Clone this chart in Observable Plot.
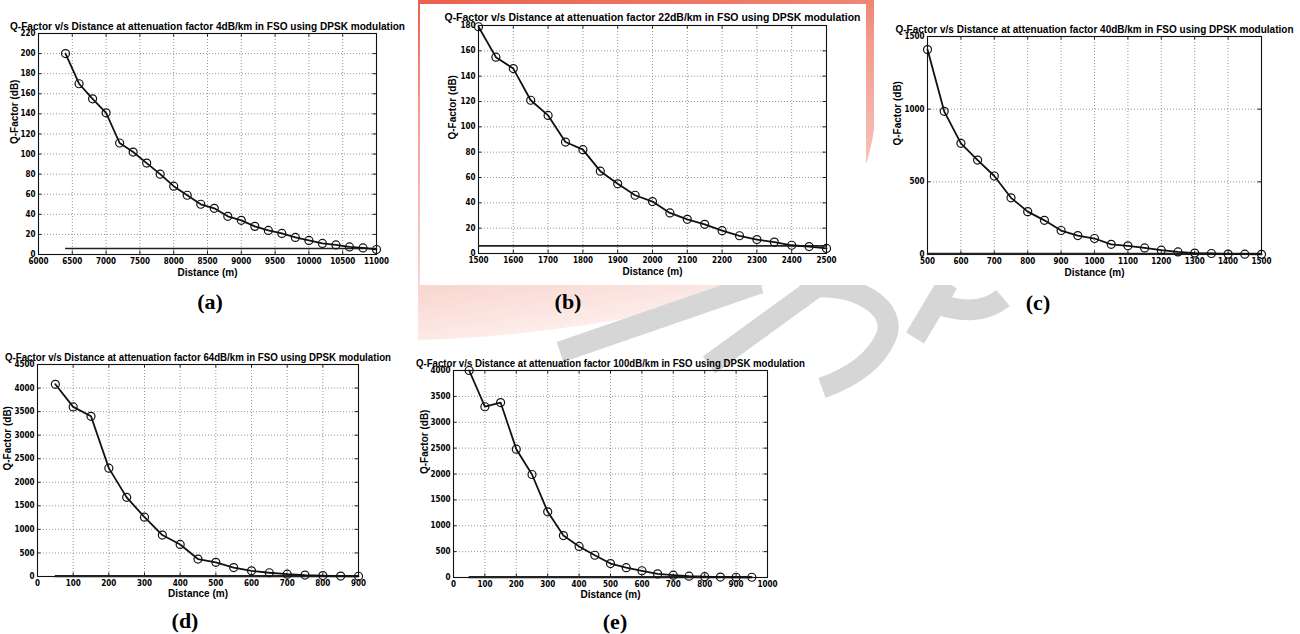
<!DOCTYPE html>
<html><head><meta charset="utf-8">
<script src="https://cdn.jsdelivr.net/npm/d3@7"></script>
<script src="https://cdn.jsdelivr.net/npm/@observablehq/plot@0.6"></script>
<style>
html,body{margin:0;padding:0;background:#fff;}
#root{position:relative;width:1300px;height:634px;overflow:hidden;background:#fff;font-family:"Liberation Sans",Arial,sans-serif;}
#wm{position:absolute;left:0;top:0;}
.tag{position:absolute;font-family:"Liberation Serif","Times New Roman",serif;font-weight:bold;font-size:22px;line-height:1;transform:translate(-50%,-50%);color:#000;white-space:nowrap;}
</style></head><body><div id="root"></div>
<script>
// ---------- data ----------
const distA = [6400,6600,6800,7000,7200,7400,7600,7800,8000,8200,8400,8600,8800,9000,9200,9400,9600,9800,10000,10200,10400,10600,10800,11000];
const qA    = [200,170,155,141,111,102,91,80,68,59,50,46,38,34,28,24,21,17,14,11,9.5,7.5,6.5,5];
const thrA  = 6;
const xTicksA = [6000,6500,7000,7500,8000,8500,9000,9500,10000,10500,11000];
const yTicksA = [0,20,40,60,80,100,120,140,160,180,200,220];
const titleA = "Q-Factor v/s Distance at attenuation factor 4dB/km in FSO using DPSK modulation";

const distB = [1500,1550,1600,1650,1700,1750,1800,1850,1900,1950,2000,2050,2100,2150,2200,2250,2300,2350,2400,2450,2500];
const qB    = [179,155,146,121,109,88,82,65,55,46,41,32,27,23,18,14,11,9,6.5,5.5,4];
const thrB  = 6;
const xTicksB = [1500,1600,1700,1800,1900,2000,2100,2200,2300,2400,2500];
const yTicksB = [0,20,40,60,80,100,120,140,160,180];
const titleB = "Q-Factor v/s Distance at attenuation factor 22dB/km in FSO using DPSK modulation";

const distC = [500,550,600,650,700,750,800,850,900,950,1000,1050,1100,1150,1200,1250,1300,1350,1400,1450,1500];
const qC    = [1410,985,765,650,540,390,295,235,165,130,110,70,60,45,30,18,10,7,3,2,1];
const thrC  = 6;
const xTicksC = [500,600,700,800,900,1000,1100,1200,1300,1400,1500];
const yTicksC = [0,500,1000,1500];
const titleC = "Q-Factor v/s Distance at attenuation factor 40dB/km in FSO using DPSK modulation";

const distD = [50,100,150,200,250,300,350,400,450,500,550,600,650,700,750,800,850,900];
const qD    = [4080,3600,3400,2300,1680,1260,880,680,370,300,190,120,80,50,30,20,10,5];
const thrD  = 6;
const xTicksD = [0,100,200,300,400,500,600,700,800,900];
const yTicksD = [0,500,1000,1500,2000,2500,3000,3500,4000,4500];
const titleD = "Q-Factor v/s Distance at attenuation factor 64dB/km in FSO using DPSK modulation";

const distE = [50,100,150,200,250,300,350,400,450,500,550,600,650,700,750,800,850,900,950];
const qE    = [4000,3300,3380,2480,1990,1270,810,600,430,270,190,130,70,45,25,15,8,5,5];
const thrE  = 6;
const xTicksE = [0,100,200,300,400,500,600,700,800,900,1000];
const yTicksE = [0,500,1000,1500,2000,2500,3000,3500,4000];
const titleE = "Q-Factor v/s Distance at attenuation factor 100dB/km in FSO using DPSK modulation";

const xLabel = "Distance (m)";
const yLabel = "Q-Factor (dB)";
const tags = ["(a)","(b)","(c)","(d)","(e)"];

// ---------- layout ----------
const panels = [
  {left:0,   top:0,   w:410, h:292, box:[38,33,376,254],  xDomain:[6000,11000], yDomain:[0,220],  xTicks:xTicksA, yTicks:yTicksA, dist:distA, q:qA, thr:thrA, thrW:1.6, title:titleA, titleW:395, titleY:22, xlabY:275, ylabX:14,  tag:[210,302]},
  {left:420, top:4,   w:446, h:281, box:[478,25,826,253], xDomain:[1500,2500],  yDomain:[0,180],  xTicks:xTicksB, yTicks:yTicksB, dist:distB, q:qB, thr:thrB, thrW:1.6, title:titleB, titleW:416, titleY:13, xlabY:274, ylabX:452, tag:[568,302]},
  {left:874, top:0,   w:426, h:285, box:[927,36,1261,254],xDomain:[500,1500],   yDomain:[0,1500], xTicks:xTicksC, yTicks:yTicksC, dist:distC, q:qC, thr:thrC, thrW:2,   title:titleC, titleW:398, titleY:25, xlabY:275, ylabX:897, tag:[1038,303]},
  {left:0,   top:335, w:400, h:275, box:[37,364,358,576], xDomain:[0,900],      yDomain:[0,4500], xTicks:xTicksD, yTicks:yTicksD, dist:distD, q:qD, thr:thrD, thrW:2.2, title:titleD, titleW:386, titleY:353, xlabY:596, ylabX:7,  tag:[185,621]},
  {left:405, top:335, w:410, h:275, box:[453,370,767,577],xDomain:[0,1000],     yDomain:[0,4000], xTicks:xTicksE, yTicks:yTicksE, dist:distE, q:qE, thr:thrE, thrW:2.2, title:titleE, titleW:389, titleY:359, xlabY:597, ylabX:424, tag:[615,622]}
];

const root = document.getElementById("root");

// ---------- background watermark (decorative) ----------
root.insertAdjacentHTML("beforeend", `
<svg id="wm" width="1300" height="634">
  <defs>
    <linearGradient id="pk" x1="0" y1="0" x2="0.2" y2="1">
      <stop offset="0" stop-color="#ea604c"/>
      <stop offset="0.3" stop-color="#f29a8c"/>
      <stop offset="0.75" stop-color="#f8cec7"/>
      <stop offset="1" stop-color="#fdeeeb"/>
    </linearGradient>
  </defs>
  <path d="M418 0 L874 0 L874 130 C860 220 800 285 720 300 C640 318 520 338 418 340 Z" fill="url(#pk)"/>
  <g fill="none" stroke="#d6d6d6" stroke-width="21">
    <path d="M560 352 L760 283"/>
    <path d="M709 365 L822 283"/>
    <path d="M800 288 C860 280 898 310 886 337 C875 362 850 378 822 388"/>
    <path d="M915 338 L948 283"/>
    <path d="M933 302 C960 313 985 313 1003 298"/>
  </g>
  <rect x="420" y="4" width="446" height="281" fill="#fff"/>
  <rect x="874" y="0" width="426" height="285" fill="#fff"/>
</svg>`);

const tickFont = "'Liberation Sans Narrow','Arial Narrow','DejaVu Sans Condensed','Liberation Sans',sans-serif";
const fmt = d => String(d);

for (const p of panels) {
  const [l, t, r, b] = p.box;
  const data = p.dist.map((d, i) => ({d, q: p.q[i]}));
  const ty = (p.yDomain[1] - p.yDomain[0]) * 3.5 / (b - t);
  const tx = (p.xDomain[1] - p.xDomain[0]) * 3.5 / (r - l);
  const [x0, x1] = p.xDomain, [y0, y1] = p.yDomain;
  const chart = Plot.plot({
    width: p.w, height: p.h,
    marginLeft: l - p.left, marginTop: t - p.top,
    marginRight: p.left + p.w - r, marginBottom: p.top + p.h - b,
    x: {domain: p.xDomain}, y: {domain: p.yDomain},
    style: {background: "transparent", overflow: "visible", fontFamily: "'Liberation Sans',Arial,sans-serif", color: "#000"},
    marks: [
      Plot.gridX(p.xTicks, {stroke: "#8a8a8a", strokeOpacity: 1, strokeWidth: 0.9, strokeDasharray: "1,2"}),
      Plot.gridY(p.yTicks, {stroke: "#8a8a8a", strokeOpacity: 1, strokeWidth: 0.9, strokeDasharray: "1,2"}),
      Plot.ruleX(p.xTicks, {y1: y0, y2: y0 + ty, stroke: "#222"}),
      Plot.ruleX(p.xTicks, {y1: y1, y2: y1 - ty, stroke: "#222"}),
      Plot.ruleY(p.yTicks, {x1: x0, x2: x0 + tx, stroke: "#222"}),
      Plot.ruleY(p.yTicks, {x1: x1, x2: x1 - tx, stroke: "#222"}),
      Plot.frame({stroke: "#111", strokeWidth: 1.1}),
      Plot.axisX(p.xTicks, {tickSize: 0, tickPadding: 4, tickFormat: fmt, label: null, fontSize: 8, fontWeight: "bold", fontFamily: tickFont}),
      Plot.axisY(p.yTicks, {tickSize: 0, tickPadding: 3, tickFormat: fmt, label: null, fontSize: 8, fontWeight: "bold", fontFamily: tickFont}),
      Plot.ruleY([p.thr], {x1: d3.min(p.dist), x2: d3.max(p.dist), stroke: "#222", strokeWidth: p.thrW}),
      Plot.line(data, {x: "d", y: "q", stroke: "#111", strokeWidth: 1.8}),
      Plot.dot(data, {x: "d", y: "q", r: 4, stroke: "#111", strokeWidth: 1.2, fill: "none"}),
      Plot.text([p.title], {text: d => d, frameAnchor: "top", dy: p.titleY - t, fontSize: 10, fontWeight: "bold"}),
      Plot.text([xLabel], {text: d => d, frameAnchor: "bottom", dy: p.xlabY - b, fontSize: 10, fontWeight: "bold"}),
      Plot.text([yLabel], {text: d => d, frameAnchor: "left", dx: p.ylabX - l, rotate: -90, fontSize: 10, fontWeight: "bold"})
    ]
  });
  for (const el of chart.querySelectorAll("text")) {
    if (el.textContent === p.title) {
      el.setAttribute("textLength", p.titleW);
      el.setAttribute("lengthAdjust", "spacingAndGlyphs");
    }
  }
  chart.style.position = "absolute";
  chart.style.left = p.left + "px";
  chart.style.top = p.top + "px";
  root.appendChild(chart);
}

panels.forEach((p, i) => {
  const div = document.createElement("div");
  div.className = "tag";
  div.textContent = tags[i];
  div.style.left = p.tag[0] + "px";
  div.style.top = p.tag[1] + "px";
  root.appendChild(div);
});
</script></body></html>
